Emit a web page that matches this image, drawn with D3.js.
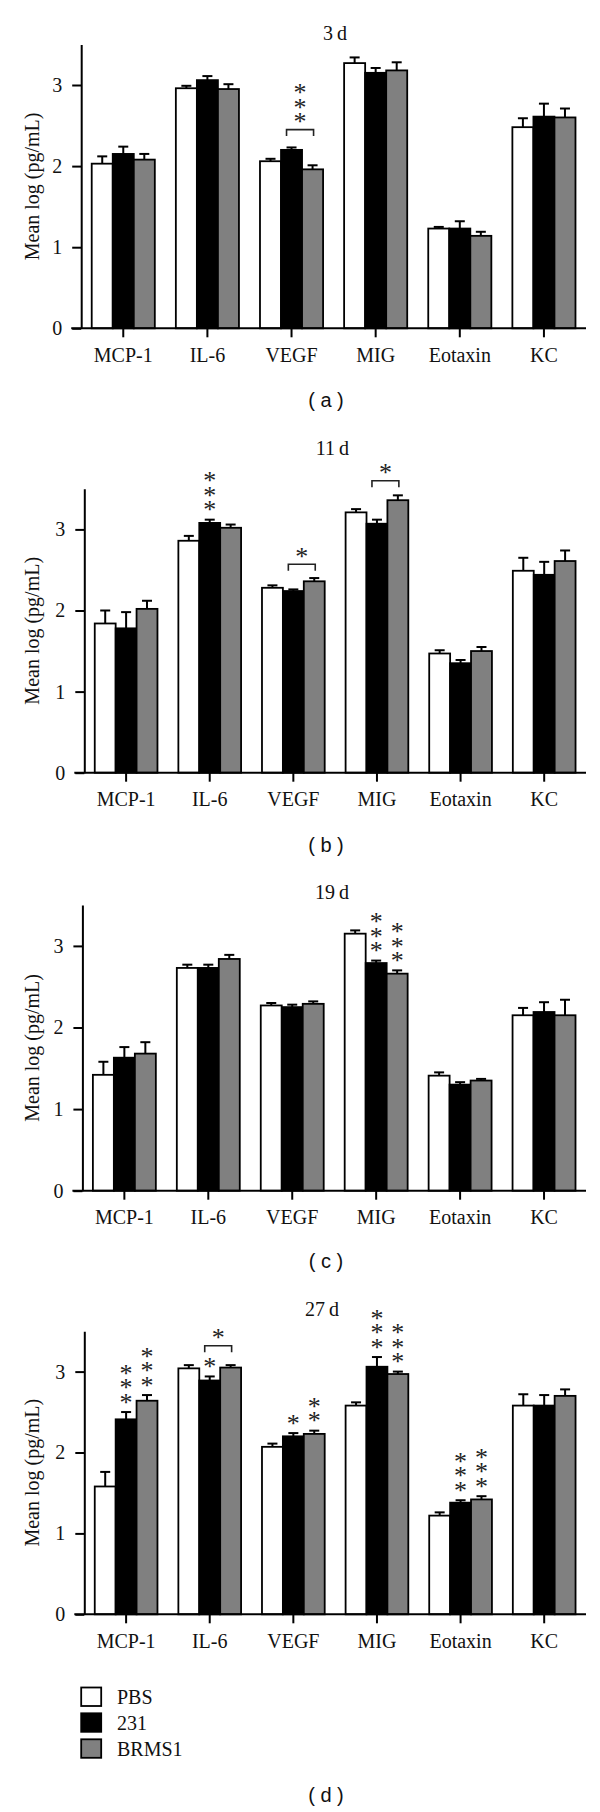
<!DOCTYPE html>
<html><head><meta charset="utf-8">
<script src="https://cdn.jsdelivr.net/npm/d3@7"></script>
<style>body{margin:0;background:#fff} svg{display:block}</style>
</head><body><svg id="chart" width="600" height="1812"></svg>
<script>
// ---------- DATA ----------
const categories = ["MCP-1", "IL-6", "VEGF", "MIG", "Eotaxin", "KC"];
const seriesNames = ["PBS", "231", "BRMS1"];
const panelTitles = ["3\u2009d", "11\u2009d", "19\u2009d", "27\u2009d"];
const panelLetters = ["a", "b", "c", "d"];
const yTicks = [0, 1, 2, 3];
const yMax = 3.5;

// 3 d
const pbs_3d   = [2.03, 2.96, 2.06, 3.27, 1.23, 2.48];
const c231_3d  = [2.15, 3.06, 2.20, 3.15, 1.23, 2.61];
const brms1_3d = [2.08, 2.95, 1.96, 3.18, 1.14, 2.60];
const sem_pbs_3d   = [0.09, 0.03, 0.03, 0.07, 0.02, 0.11];
const sem_231_3d   = [0.09, 0.05, 0.03, 0.06, 0.09, 0.16];
const sem_brms1_3d = [0.07, 0.06, 0.05, 0.10, 0.05, 0.11];
// 11 d
const pbs_11d   = [1.84, 2.86, 2.28, 3.21, 1.47, 2.49];
const c231_11d  = [1.78, 3.08, 2.24, 3.07, 1.35, 2.44];
const brms1_11d = [2.02, 3.02, 2.36, 3.36, 1.50, 2.61];
const sem_pbs_11d   = [0.16, 0.06, 0.03, 0.04, 0.04, 0.16];
const sem_231_11d   = [0.20, 0.04, 0.02, 0.05, 0.04, 0.16];
const sem_brms1_11d = [0.10, 0.04, 0.04, 0.06, 0.05, 0.13];
// 19 d
const pbs_19d   = [1.42, 2.73, 2.27, 3.15, 1.41, 2.15];
const c231_19d  = [1.63, 2.73, 2.25, 2.79, 1.30, 2.19];
const brms1_19d = [1.68, 2.84, 2.29, 2.66, 1.35, 2.15];
const sem_pbs_19d   = [0.16, 0.04, 0.03, 0.04, 0.04, 0.09];
const sem_231_19d   = [0.13, 0.04, 0.03, 0.03, 0.03, 0.12];
const sem_brms1_19d = [0.14, 0.05, 0.03, 0.04, 0.02, 0.19];
// 27 d
const pbs_27d   = [1.58, 3.04, 2.07, 2.58, 1.22, 2.58];
const c231_27d  = [2.41, 2.89, 2.20, 3.06, 1.38, 2.58];
const brms1_27d = [2.64, 3.05, 2.23, 2.97, 1.42, 2.70];
const sem_pbs_27d   = [0.18, 0.04, 0.04, 0.04, 0.04, 0.14];
const sem_231_27d   = [0.09, 0.05, 0.04, 0.12, 0.03, 0.13];
const sem_brms1_27d = [0.07, 0.03, 0.04, 0.03, 0.04, 0.08];

// significance marks: series index 0=PBS,1=231,2=BRMS1
const stars_3d = [];
const brackets_3d = [{cat: "VEGF", from: 1, to: 2, n: 3, level: 2.45}];
const stars_11d = [{cat: "IL-6", s: 1, n: 3}];
const brackets_11d = [{cat: "VEGF", from: 1, to: 2, n: 1, level: 2.57},
                      {cat: "MIG", from: 1, to: 2, n: 1, level: 3.60}];
const stars_19d = [{cat: "MIG", s: 1, n: 3}, {cat: "MIG", s: 2, n: 3}];
const brackets_19d = [];
const stars_27d = [{cat: "MCP-1", s: 1, n: 3}, {cat: "MCP-1", s: 2, n: 3},
                   {cat: "IL-6", s: 1, n: 1},
                   {cat: "VEGF", s: 1, n: 1}, {cat: "VEGF", s: 2, n: 2},
                   {cat: "MIG", s: 1, n: 3}, {cat: "MIG", s: 2, n: 3},
                   {cat: "Eotaxin", s: 1, n: 3}, {cat: "Eotaxin", s: 2, n: 3}];
const brackets_27d = [{cat: "IL-6", from: 1, to: 2, n: 1, level: 3.32}];

const panelData = [
  {means: [pbs_3d, c231_3d, brms1_3d], sems: [sem_pbs_3d, sem_231_3d, sem_brms1_3d], stars: stars_3d, brackets: brackets_3d},
  {means: [pbs_11d, c231_11d, brms1_11d], sems: [sem_pbs_11d, sem_231_11d, sem_brms1_11d], stars: stars_11d, brackets: brackets_11d},
  {means: [pbs_19d, c231_19d, brms1_19d], sems: [sem_pbs_19d, sem_231_19d, sem_brms1_19d], stars: stars_19d, brackets: brackets_19d},
  {means: [pbs_27d, c231_27d, brms1_27d], sems: [sem_pbs_27d, sem_231_27d, sem_brms1_27d], stars: stars_27d, brackets: brackets_27d}
];

// ---------- LAYOUT / STYLE ----------
const layout = [
  {axisX: 81.2, y0: 328.3, unit: 81.1, titleX: 335, titleY: 40.3, letterY: 406.7},
  {axisX: 84.3, y0: 772.7, unit: 81.1, titleX: 332.5, titleY: 455.3, letterY: 851.7},
  {axisX: 82.4, y0: 1190.7, unit: 81.6, titleX: 332, titleY: 898.7, letterY: 1268.3},
  {axisX: 84.3, y0: 1614.3, unit: 80.9, titleX: 322, titleY: 1316.3, letterY: 1801.7}
];
const fills = ["#ffffff", "#000000", "#808080"];
const serif = "'Liberation Serif', 'Times New Roman', serif";
const sans = "'Liberation Sans', Arial, sans-serif";
const xRight = 586;
const starFs = 26, starStep = 14.5;

const svg = d3.select("#chart");
svg.append("rect").attr("width", 600).attr("height", 1812).attr("fill", "#fff");

// one text element per stack of asterisks; the run is turned to go upwards and
// each glyph is turned back upright, so stars stack vertically (lowest centred at cy)
function drawStars(g, cx, cy, n) {
  const adv = starFs * 0.5;
  const X = cx - adv / 2, Y = cy + starFs * 0.47;
  g.append("text")
    .attr("transform", `translate(${X},${Y}) rotate(-90)`)
    .attr("x", d3.range(n).map(k => k * starStep).join(" "))
    .attr("y", 0)
    .attr("rotate", "90")
    .attr("font-family", serif).attr("font-size", starFs).attr("fill", "#222")
    .text("*".repeat(n));
}

panelData.forEach((pd, pi) => {
  const L = layout[pi];
  const g = svg.append("g");
  const y = d3.scaleLinear().domain([0, yMax]).range([L.y0, L.y0 - yMax * L.unit]);
  const x = d3.scaleBand().domain(categories).range([L.axisX, xRight])
    .paddingInner(0.25).paddingOuter(0.125);
  const xs = d3.scaleBand().domain([0, 1, 2]).range([0, x.bandwidth()]);
  const cx = (cat, s) => x(cat) + xs(s) + xs.bandwidth() / 2;

  // bars
  pd.means.forEach((vals, s) => {
    g.selectAll(null).data(categories).join("rect")
      .attr("x", c => x(c) + xs(s))
      .attr("y", (c, i) => y(vals[i]))
      .attr("width", xs.bandwidth())
      .attr("height", (c, i) => y(0) - y(vals[i]))
      .attr("fill", fills[s]).attr("stroke", "#000").attr("stroke-width", 1.8);
  });
  // error bars
  pd.means.forEach((vals, s) => {
    const sem = pd.sems[s];
    categories.forEach((c, i) => {
      const xc = cx(c, s);
      g.append("line").attr("x1", xc).attr("x2", xc)
        .attr("y1", y(vals[i])).attr("y2", y(vals[i] + sem[i]))
        .attr("stroke", "#000").attr("stroke-width", 2);
      g.append("line").attr("x1", xc - 5).attr("x2", xc + 5)
        .attr("y1", y(vals[i] + sem[i])).attr("y2", y(vals[i] + sem[i]))
        .attr("stroke", "#000").attr("stroke-width", 2);
    });
  });

  // Y axis
  const ya = g.append("g").attr("transform", `translate(${L.axisX},0)`)
    .call(d3.axisLeft(y).tickValues(yTicks).tickSize(9).tickSizeOuter(0).tickPadding(10).tickFormat(d3.format("d")));
  ya.select(".domain").attr("stroke-width", 2);
  ya.selectAll(".tick line").attr("stroke-width", 2);
  ya.selectAll("text").attr("font-family", serif).attr("font-size", 20).attr("fill", "#111");

  // X axis
  const xa = g.append("g").attr("transform", `translate(0,${L.y0})`)
    .call(d3.axisBottom(x).tickSize(9).tickSizeOuter(0));
  xa.select(".domain").remove();
  xa.selectAll(".tick line").attr("stroke-width", 2);
  xa.selectAll("text").attr("font-family", serif).attr("font-size", 20)
    .attr("y", 33.3).attr("dy", null).attr("fill", "#111");
  g.append("line").attr("x1", L.axisX - 10).attr("x2", xRight)
    .attr("y1", L.y0).attr("y2", L.y0).attr("stroke", "#000").attr("stroke-width", 2);

  // y label
  const ymid = (y(0) + y(yMax)) / 2;
  g.append("text").attr("transform", `translate(39,${ymid}) rotate(-90)`)
    .attr("text-anchor", "middle").attr("font-family", serif).attr("font-size", 20)
    .attr("fill", "#111").text("Mean log (pg/mL)");

  // title
  g.append("text").attr("x", L.titleX).attr("y", L.titleY).attr("text-anchor", "middle")
    .attr("font-family", serif).attr("font-size", 20).attr("fill", "#111").text(panelTitles[pi]);
  // panel letter
  g.append("text").attr("x", 326).attr("y", L.letterY).attr("text-anchor", "middle")
    .attr("font-family", sans).attr("font-size", 20).attr("fill", "#111")
    .attr("xml:space", "preserve").style("white-space", "pre")
    .text(`( ${panelLetters[pi]} )`);

  // per-bar stars
  pd.stars.forEach(st => {
    const i = categories.indexOf(st.cat);
    const top = y(pd.means[st.s][i] + pd.sems[st.s][i]);
    drawStars(g, cx(st.cat, st.s), top - 13.5, st.n);
  });
  // brackets
  pd.brackets.forEach(b => {
    const x1 = cx(b.cat, b.from) - 5, x2 = cx(b.cat, b.to) + 1;
    const by = y(b.level);
    g.append("path").attr("d", `M${x1},${by + 6.5}V${by}H${x2}V${by + 6.5}`)
      .attr("fill", "none").attr("stroke", "#222").attr("stroke-width", 1.6);
    drawStars(g, (x1 + x2) / 2, by - 11.5, b.n);
  });
});

// legend (bottom panel)
const legendY = [1696.7, 1722.5, 1748.5];
const lg = svg.append("g");
seriesNames.forEach((nm, s) => {
  lg.append("rect").attr("x", 81.2).attr("y", legendY[s] - 9.2).attr("width", 20).attr("height", 18.5)
    .attr("fill", fills[s]).attr("stroke", "#000").attr("stroke-width", 1.8);
  lg.append("text").attr("x", 117).attr("y", legendY[s] + 7).attr("font-family", serif)
    .attr("font-size", 20).attr("fill", "#111").text(nm);
});
</script></body></html>
